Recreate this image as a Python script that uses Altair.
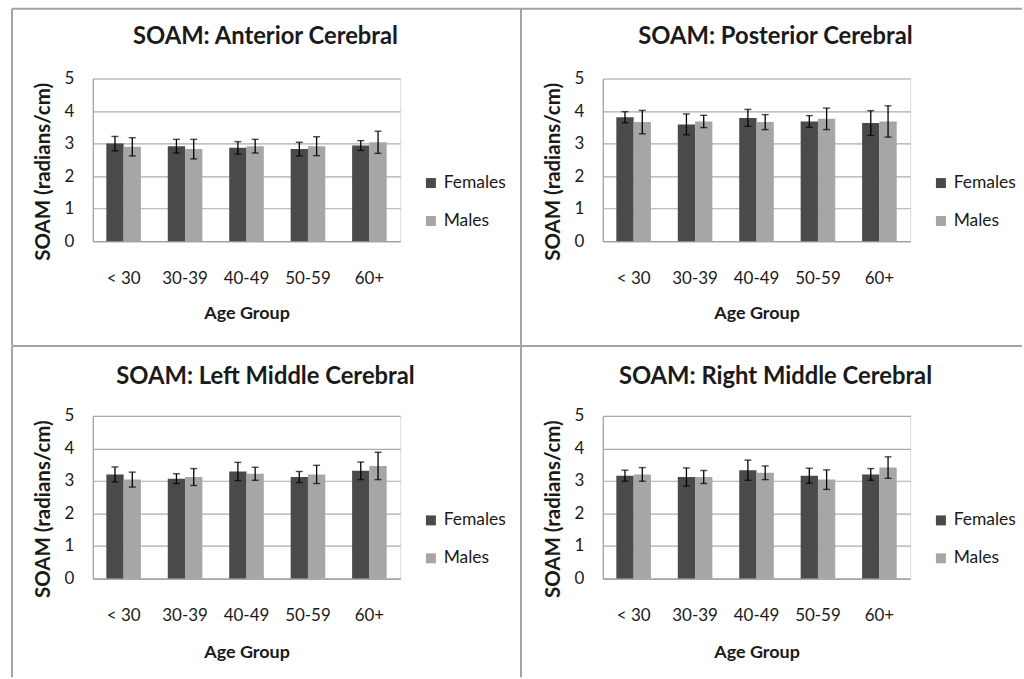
import altair as alt
import pandas as pd

AGE = ["< 30", "30-39", "40-49", "50-59", "60+"]
SEX = ["Females", "Males"]

TITLES = ["SOAM: Anterior Cerebral", "SOAM: Posterior Cerebral",
          "SOAM: Left Middle Cerebral", "SOAM: Right Middle Cerebral"]

ant_f = [3.00, 2.92, 2.87, 2.83, 2.94]
ant_f_err = [0.22, 0.21, 0.19, 0.21, 0.15]
ant_m = [2.90, 2.83, 2.92, 2.92, 3.04]
ant_m_err = [0.28, 0.30, 0.21, 0.29, 0.34]

post_f = [3.81, 3.59, 3.79, 3.68, 3.63]
post_f_err = [0.17, 0.32, 0.26, 0.18, 0.38]
post_m = [3.66, 3.68, 3.66, 3.76, 3.68]
post_m_err = [0.36, 0.19, 0.23, 0.33, 0.48]

lmc_f = [3.20, 3.07, 3.29, 3.12, 3.31]
lmc_f_err = [0.23, 0.15, 0.28, 0.17, 0.27]
lmc_m = [3.04, 3.12, 3.22, 3.20, 3.46]
lmc_m_err = [0.23, 0.26, 0.20, 0.28, 0.42]

rmc_f = [3.16, 3.12, 3.33, 3.16, 3.20]
rmc_f_err = [0.17, 0.28, 0.31, 0.23, 0.18]
rmc_m = [3.20, 3.12, 3.25, 3.04, 3.41]
rmc_m_err = [0.21, 0.20, 0.21, 0.30, 0.33]

Y_TICKS = [0, 1, 2, 3, 4, 5]

PANELS = [
    (ant_f, ant_f_err, ant_m, ant_m_err),
    (post_f, post_f_err, post_m, post_m_err),
    (lmc_f, lmc_f_err, lmc_m, lmc_m_err),
    (rmc_f, rmc_f_err, rmc_m, rmc_m_err),
]

FONT = "Lato"
W, H = 308, 163
FRAME = "#a3a3a3"


def panel_df(f, fe, m, me):
    rows = []
    for i, a in enumerate(AGE):
        rows.append({"age": a, "sex": "Females", "mean": f[i], "err": fe[i]})
        rows.append({"age": a, "sex": "Males", "mean": m[i], "err": me[i]})
    d = pd.DataFrame(rows)
    d["lo"] = d["mean"] - d["err"]
    d["hi"] = d["mean"] + d["err"]
    return d


def make_panel(idx):
    f, fe, m, me = PANELS[idx]
    d = panel_df(f, fe, m, me)
    top_row = idx < 2
    right_col = idx % 2 == 1
    left_px = -82 if right_col else -81
    right_px = 420 if right_col else 429
    bottom_px = 267 if top_row else 262

    x_axis = alt.Axis(title="Age Group", labelAngle=0, ticks=False,
                      labelPadding=29, labelFontSize=17, labelColor="#1a1a1a",
                      labelFont=FONT, titleFont=FONT, titleFontSize=18,
                      titleFontWeight="bold", titleColor="#1a1a1a",
                      titleBaseline="alphabetic",
                      titleY=77 if top_row else 79,
                      domainColor="#a0a0a0", domainWidth=1.2, grid=False)
    x_scale = alt.Scale(paddingInner=0.437, paddingOuter=0.22)
    y_axis = alt.Axis(title="SOAM (radians/cm)", values=Y_TICKS, tickCount=12,
                      format="d", ticks=False, labelPadding=19,
                      labelOverlap=False,
                      labelFontSize=17, labelColor="#1a1a1a", labelFont=FONT,
                      titleFont=FONT, titleFontSize=20.5, titleFontWeight="bold",
                      titleColor="#1a1a1a", titleX=-49, titleY=93,
                      titleBaseline="middle",
                      gridColor="#ababab", gridWidth=1.2,
                      domainColor="#a0a0a0", domainWidth=1.2)
    y_scale = alt.Scale(domain=[0, 5], nice=False)

    def X():
        return alt.X("age:N", sort=AGE, scale=x_scale, axis=x_axis)

    def Y(field):
        return alt.Y(field, scale=y_scale, axis=y_axis)

    xo = alt.XOffset("sex:N", sort=SEX)
    base = alt.Chart(d)
    bars = base.mark_bar().encode(
        x=X(), xOffset=xo, y=Y("mean:Q"),
        color=alt.Color("sex:N", sort=SEX,
                        scale=alt.Scale(domain=SEX, range=["#4a4a4a", "#a6a6a6"]),
                        legend=alt.Legend(title=None, orient="none", legendX=330,
                                          legendY=96, symbolType="square",
                                          symbolSize=100, symbolStrokeWidth=0,
                                          labelFontSize=17.5, labelFont=FONT,
                                          labelColor="#1a1a1a", labelOffset=4,
                                          rowPadding=19, padding=0)),
    )
    err = base.mark_rule(color="black", strokeWidth=1.3).encode(
        x=X(), xOffset=xo, y=Y("lo:Q"), y2="hi:Q")
    cap_lo = base.mark_tick(color="black", size=7, thickness=1.4).encode(
        x=X(), xOffset=xo, y=Y("lo:Q"))
    cap_hi = base.mark_tick(color="black", size=7, thickness=1.4).encode(
        x=X(), xOffset=xo, y=Y("hi:Q"))

    one = pd.DataFrame({"k": [0]})
    top_line = alt.Chart(one).mark_rule(color=FRAME, strokeWidth=2).encode(
        x=alt.value(left_px), x2=alt.value(right_px), y=alt.value(-70))
    left_line = alt.Chart(one).mark_rule(color=FRAME, strokeWidth=2).encode(
        x=alt.value(left_px), y=alt.value(-70), y2=alt.value(bottom_px))

    title = alt.TitleParams(TITLES[idx], font=FONT, fontSize=23.8, fontWeight="bold",
                            color="#1a1a1a", anchor="middle", frame="group", dx=19,
                            baseline="alphabetic",
                            offset=-60 if top_row else -63)
    return alt.layer(top_line, left_line, bars, err, cap_lo, cap_hi).properties(
        width=W, height=H, title=title)


chart = alt.concat(
    *[make_panel(i) for i in range(4)],
    columns=2,
    spacing=alt.RowColnumber(row=175, column=203),
    bounds="flush",
).resolve_scale(color="independent").resolve_legend(color="independent").properties(
    padding={"left": 10, "top": 6, "right": 0, "bottom": 0}
).configure_view(stroke="transparent").configure(font=FONT, background="white")

chart.save("out.html", embed_options={"renderer": "svg", "actions": False})
